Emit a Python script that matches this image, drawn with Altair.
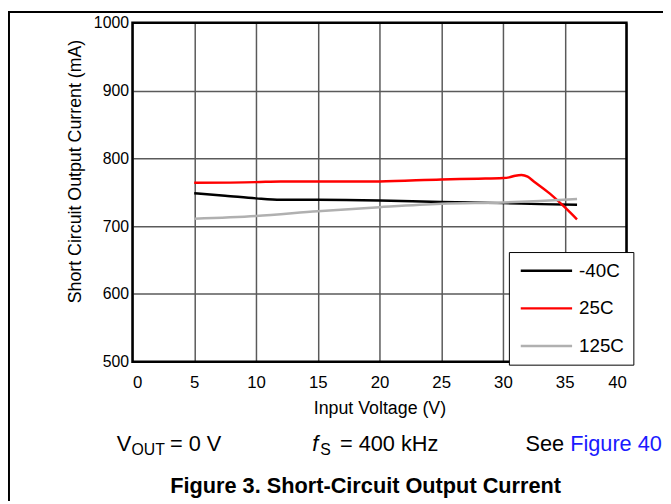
import altair as alt
import pandas as pd

# --- data ---
series_names = ["-40C", "25C", "125C"]
series_colors = ["#000000", "#ff0000", "#b0b0b0"]

v_m40 = [5, 7.5, 10, 12, 15, 20, 25, 30, 33, 36]
i_m40 = [748.5, 745, 741, 739, 739, 738, 735.5, 734, 732.5, 731.5]

v_25 = [5, 10, 12, 15, 20, 25, 28, 30, 30.5, 31, 31.5, 32, 32.5, 33.8, 35, 36]
i_25 = [764, 765, 766, 766, 766, 769, 770, 771, 772, 774.5, 775.5, 773, 766, 748, 728, 710]

v_125 = [5, 10, 15, 20, 25, 30, 33, 36]
i_125 = [711, 715, 722, 728, 733, 735, 737, 740]

x_ticks = [0, 5, 10, 15, 20, 25, 30, 35, 40]
y_ticks = [500, 600, 700, 800, 900, 1000]

rows = []
for name, vs, cs in zip(series_names, [v_m40, v_25, v_125], [i_m40, i_25, i_125]):
    for v, c in zip(vs, cs):
        rows.append({"V": v, "I": c, "T": name})
df = pd.DataFrame(rows)

FONT = "Liberation Sans"
W, H = 500, 343

lines = alt.Chart(df).mark_line(interpolate="monotone", strokeWidth=2.5).encode(
    x=alt.X("V:Q", scale=alt.Scale(domain=[0, 40], nice=False),
            axis=alt.Axis(values=x_ticks, title="Input Voltage (V)", titleFontSize=18,
                          titleFontWeight="normal", titlePadding=9, labelPadding=13,
                          labelFontSize=17)),
    y=alt.Y("I:Q", scale=alt.Scale(domain=[500, 1000], nice=False),
            axis=alt.Axis(values=y_ticks, format="d", title="Short Circuit Output Current (mA)",
                          titleFontSize=18, titleFontWeight="normal", labelFontSize=16,
                          labelPadding=4, titleX=-58, titleY=150, titleAngle=-90,
                          titleBaseline="middle", titleAlign="center")),
    color=alt.Color("T:N", sort=series_names,
                    scale=alt.Scale(domain=series_names, range=series_colors),
                    legend=alt.Legend(title=None, orient="none", legendX=381, legendY=232,
                                      symbolType="M-3,0L3,0", symbolSize=300,
                                      symbolStrokeWidth=2.5, labelFontSize=19,
                                      labelFont=FONT, labelOffset=23, padding=9,
                                      rowPadding=18, strokeColor="black",
                                      fillColor="white", symbolOffset=19)),
)

frame = alt.Chart(pd.DataFrame({"a": [0]})).mark_rect(
    fill=None, stroke="black", strokeWidth=2.5).encode(
    x=alt.value(0), x2=alt.value(W), y=alt.value(0), y2=alt.value(H))

def txt(s, x, y, size=22, color="black", weight="normal", style="normal", align="left"):
    return alt.Chart(pd.DataFrame({"t": [s]})).mark_text(
        font=FONT, fontSize=size, color=color, fontWeight=weight, fontStyle=style,
        align=align, baseline="middle").encode(text="t:N", x=alt.value(x), y=alt.value(y))

ann = [
    txt("V", -16, 426),
    txt("OUT", -1, 432, size=16),
    txt("= 0 V", 38, 426),
    txt("f", 182, 426, style="italic"),
    txt("S", 190, 432, size=16),
    txt("= 400 kHz", 210, 426),
    txt("See", 437, 426, align="right"),
    txt("Figure 40", 443, 426, color="#1a1aff"),
    txt("Figure 3. Short-Circuit Output Current", 236, 469, size=22, weight="bold", align="center"),
]

frame_top = alt.Chart(pd.DataFrame({"a": [0]})).mark_rule(color="black", strokeWidth=2).encode(
    x=alt.value(-126), x2=alt.value(537), y=alt.value(-11))
frame_left = alt.Chart(pd.DataFrame({"a": [0]})).mark_rule(color="black", strokeWidth=2).encode(
    x=alt.value(-125), y=alt.value(-12), y2=alt.value(484))

chart = alt.layer(lines, frame, frame_top, frame_left, *ann).properties(
    width=W, height=H,
    autosize=alt.AutoSizeParams(type="none"),
    padding={"left": 126, "top": 12, "right": 37, "bottom": 141},
).configure_view(stroke=None).configure_axis(
    grid=True, gridColor="#5a5a5a", gridWidth=1.5, domain=False, ticks=False,
    labelFont=FONT, titleFont=FONT, labelColor="black", titleColor="black",
).configure_legend(labelColor="black")

chart.save("out.html", embed_options={"renderer": "svg", "actions": False})
